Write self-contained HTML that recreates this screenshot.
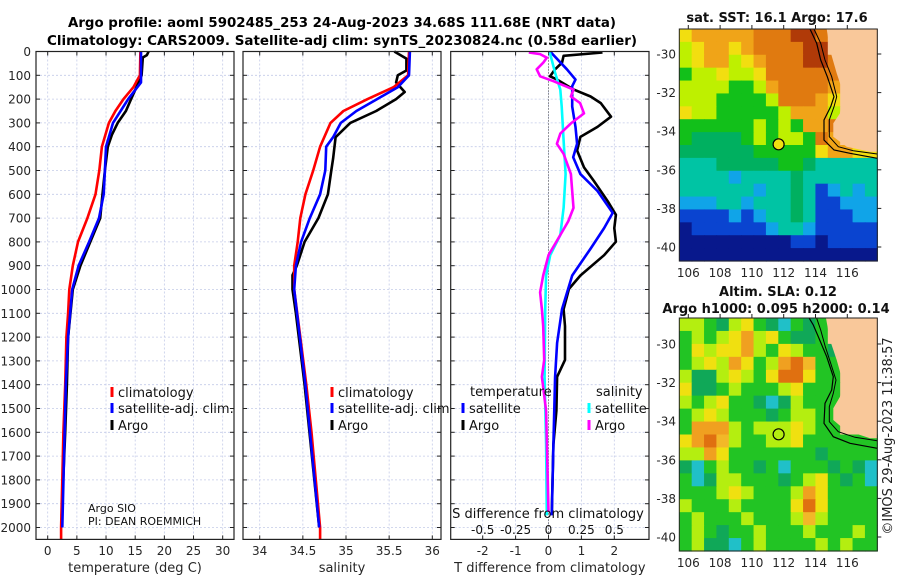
<!DOCTYPE html>
<html><head><meta charset="utf-8"><style>
html,body{margin:0;padding:0;background:#fff;}
svg{display:block;font-family:"DejaVu Sans","Liberation Sans",sans-serif;}
</style></head><body>
<svg id="fig" width="900" height="580" viewBox="0 0 900 580" xmlns="http://www.w3.org/2000/svg">
<text x="342" y="27" text-anchor="middle" font-size="13" font-weight="bold" textLength="548" lengthAdjust="spacingAndGlyphs">Argo profile: aoml 5902485_253 24-Aug-2023 34.68S 111.68E (NRT data)</text>
<text x="342" y="45" text-anchor="middle" font-size="13" font-weight="bold" textLength="590" lengthAdjust="spacingAndGlyphs">Climatology: CARS2009. Satellite-adj clim: synTS_20230824.nc (0.58d earlier)</text>
<g id="maps"></g>
<g id="panels"></g>
</svg>
<script>
// ---------- profile data ----------
const tClimDepth=[0,100,150,200,250,300,400,500,600,700,800,900,1000,1100,1200,1400,1600,1800,2000,2050];
const tClimVal=[15.9,15.8,14.7,13.0,11.6,10.5,9.3,8.85,8.2,6.8,5.2,4.3,3.7,3.5,3.2,3.0,2.7,2.5,2.3,2.3];
const tSatDepth=[0,100,130,200,300,400,500,600,700,800,900,1000,1200,1400,2000];
const tSatVal=[16.0,16.0,16.0,13.8,11.2,10.0,9.8,9.6,8.8,7.1,5.3,4.2,3.5,3.1,2.5];
const tArgoDepth=[0,15,25,100,150,200,250,300,350,400,500,600,700,800,900,1000,1200,1400,1600,1950];
const tArgoVal=[17.3,17.0,16.3,16.1,15.2,14.3,13.4,12.0,11.0,10.3,9.8,9.4,9.0,7.3,5.6,4.3,3.5,3.3,3.0,2.4];
const sClimDepth=[0,100,150,200,250,300,400,500,600,700,800,900,1000,1200,1400,1600,1800,2000,2050];
const sClimVal=[35.73,35.72,35.55,35.25,34.97,34.82,34.70,34.62,34.53,34.47,34.44,34.40,34.40,34.47,34.54,34.60,34.65,34.70,34.70];
const sSatDepth=[0,100,150,200,250,300,360,400,500,600,700,800,900,1000,1400,2000];
const sSatVal=[35.74,35.73,35.60,35.36,35.12,34.94,34.85,34.77,34.76,34.70,34.58,34.48,34.42,34.40,34.53,34.69];
const sArgoDepth=[0,30,80,100,130,170,200,250,300,360,450,500,600,700,800,900,940,1000,1100,1400,2000];
const sArgoVal=[35.56,35.70,35.70,35.60,35.58,35.68,35.58,35.35,35.05,34.88,34.85,34.83,34.79,34.68,34.52,34.43,34.38,34.38,34.42,34.52,34.69];
const dTSatDepth=[0,75,118,146,231,317,388,444,515,586,678,742,828,941,1083,1225,1367,1651,1949];
const dTSatVal=[0.05,0.56,0.82,0.72,0.72,0.82,0.87,0.75,0.97,1.49,1.95,1.69,1.28,0.72,0.41,0.26,0.20,0.15,0.10];
const dTArgoDepth=[4,18,47,75,104,118,160,189,217,274,317,359,416,487,544,629,686,742,799,856,941,998,1083,1154,1296,1367,1509,1651,1935];
const dTArgoVal=[1.64,0.46,0.41,0.20,0.05,0.26,0.77,1.28,1.59,1.90,1.49,0.97,0.87,1.08,1.38,1.80,2.05,2.00,2.05,1.69,0.97,0.62,0.46,0.50,0.50,0.26,0.24,0.15,0.10];
const dSSatDepth=[4,89,160,231,373,515,657,771,856,941,1083,1367,1651,1949];
const dSSatVal=[0.01,0.05,0.09,0.10,0.115,0.13,0.115,0.09,0.013,-0.018,-0.025,-0.03,-0.018,-0.013];
const dSArgoDepth=[4,11,26,47,75,104,125,160,189,217,260,302,345,388,430,515,586,657,714,771,856,941,1012,1083,1154,1296,1367,1509,1935];
const dSArgoVal=[-0.15,-0.064,-0.013,-0.04,-0.09,-0.064,0.04,0.19,0.17,0.24,0.27,0.17,0.09,0.064,0.115,0.17,0.18,0.19,0.15,0.09,0,-0.04,-0.064,-0.05,-0.04,-0.033,-0.05,-0.018,0];
const depthTicks=[0,100,200,300,400,500,600,700,800,900,1000,1100,1200,1300,1400,1500,1600,1700,1800,1900,2000];
const tempTicks=[0,5,10,15,20,25,30];
const salTicks=[34,34.5,35,35.5,36];
const salTickLabels=["34","34.5","35","35.5","36"];
const dTTicks=[-2,-1,0,1,2];
const dSTicks=[-0.5,-0.25,0,0.25,0.5];
const dSTickLabels=["-0.5","-0.25","0","0.25","0.5"];
// ---------- map data (colour grids) ----------
const sstRows=[
"YoooooOOORROLLLL","yYooYoOOOORRLLLL","yYooyYoOOORROLLL","GyyYyyYOOOOOOLLL",
"yyyyGGyoOOOOoLLL","yyyGGGGyOOOoYLLL","YyyGGGGGyoooyLLL","GGGGGGyGyGooOLLL",
"GggggGyGyyGOoLLL","ggggggGGGGGYooYY","TTTgggggGGgTTTTT","TTTTCTTTTgTTTTTT",
"TTTTTTCTTgTBCTCT","CCCTTCTTTgTBBCCC","BBBBCBCTTgTBBBCC","NBBBBBBCTTCBBBBB",
"NNNNNNNNNBBNBBBB","NNNNNNNNNNNNNNNN"];
const slaRows=[
"yyGgyYGgCGgGLLLL","GyGyYOyYGggGLLLL","GYyYYOyGYyGGgLLL","GyYyOYGyORoGGLLL",
"yggyYyGYRRYGGLLL","YggGyGGGyYGGGLLL","yGyYGGgCgyGGGLLL","GyYyGGGgGyyGGLLL",
"GOOOyGyyyYyGGLLL","YORoyGGyyYGGGGGG","yyOYGGGGGGGgGGGG","gCGyGGgGCGGGgGgC",
"GCgyyGGGgGyYGgGC","GGGyYyGGGyOYGGGG","yGGGyGGGGYRYGGGG","GyGGGyGGGyoyGGGG",
"GyGgGGyGGGyGGGyG","GyggCGyGGGGyGyGG"];
const sstPal={R:"#b03a08",O:"#e07a10",o:"#f0a418",Y:"#f2de10",y:"#bef000",G:"#12c01a",g:"#00b060",T:"#00c4a4",C:"#10a4e8",B:"#0a44d0",N:"#08188c",L:"#f9c89a"};
const slaPal={R:"#e07010",O:"#f0a020",o:"#f2b828",Y:"#f0e010",y:"#b4ee10",G:"#22c424",g:"#10a858",C:"#20c0c8",L:"#f9c89a"};
const latTicks=[-30,-32,-34,-36,-38,-40];
const lonTicks=[106,108,110,112,114,116];
const argoLat=-34.68, argoLon=111.68;

const NS="http://www.w3.org/2000/svg";
function mk(tag,attrs,parent){const e=document.createElementNS(NS,tag);for(const k in attrs)e.setAttribute(k,attrs[k]);parent.appendChild(e);return e;}
const panels=document.getElementById('panels');
const maps=document.getElementById('maps');
const TOP=51.5,DS=0.238,BOT=539.4;
const yD=d=>TOP+d*DS;
const xT=t=>47.7+t*5.833;
const xS=s=>259.7+(s-34)*86.3;
const xDT=v=>548.5+v*32.9;
const xDS=v=>548.5+v*131.6;

function panel(name,x0,x1,xticks,xfun,xlabels,title){
  const g=mk('g',{},panels);
  
  
  mk('rect',{x:x0,y:TOP,width:x1-x0,height:BOT-TOP,fill:'#fff'},g);
  depthTicks.forEach(d=>{const l=mk('line',{x1:x0,x2:x1,y1:yD(d),y2:yD(d),stroke:'#c4cbe8','stroke-width':0.8,'stroke-dasharray':'2,2'},g);
    
    mk('line',{x1:x0,x2:x0+4,y1:yD(d),y2:yD(d),stroke:'#222'},g);mk('line',{x1:x1-4,x2:x1,y1:yD(d),y2:yD(d),stroke:'#222'},g);});
  xticks.forEach((v,i)=>{const x=xfun(v);
    const l=mk('line',{x1:x,x2:x,y1:TOP,y2:BOT,stroke:'#c4cbe8','stroke-width':0.8,'stroke-dasharray':'2,2'},g);
    
    mk('line',{x1:x,x2:x,y1:BOT-4,y2:BOT,stroke:'#222'},g);mk('line',{x1:x,x2:x,y1:TOP,y2:TOP+4,stroke:'#222'},g);
    const t=mk('text',{x:x,y:555,'font-size':12,'text-anchor':'middle',fill:'#262626'},g);t.textContent=xlabels[i];
    });
  const tt=mk('text',{x:(x0+x1)/2,y:572,'font-size':13,'text-anchor':'middle',fill:'#262626'},g);tt.textContent=title;
  
  return g;
}
function border(g,x0,x1){mk('rect',{x:x0,y:TOP,width:x1-x0,height:BOT-TOP,fill:'none',stroke:'#222','stroke-width':1.2},g);}
function line(g,name,depths,vals,xf,color,w){
  const p=depths.map((d,i)=>xf(vals[i]).toFixed(1)+','+yD(d).toFixed(1)).join(' ');
  const e=mk('polyline',{points:p,fill:'none',stroke:color,'stroke-width':w||2.6,'stroke-linejoin':'round'},g);
  
}
function legend(g,x,y,color,label,name){
  mk('rect',{x:x-1.5,y:y-5,width:3,height:10,fill:color},g);
  const t=mk('text',{x:x+6,y:y+5,'font-size':13,fill:'#111'},g);t.textContent=label;
  
}
// panel 1
const p1=panel('temperature-panel',36,234,tempTicks,xT,tempTicks.map(String),'temperature (deg C)');
depthTicks.forEach(d=>{const t=mk('text',{x:31,y:yD(d)+4.5,'font-size':12,'text-anchor':'end',fill:'#262626'},p1);t.textContent=d;
  });
line(p1,'argo-temperature-line',tArgoDepth,tArgoVal,xT,'#000');
line(p1,'climatology-temperature-line',tClimDepth,tClimVal,xT,'#f00');
line(p1,'satellite-temperature-line',tSatDepth,tSatVal,xT,'#00f');
legend(p1,112,392,'#f00','climatology','legend-climatology');
legend(p1,112,408,'#00f','satellite-adj. clim.','legend-satellite-adj');
legend(p1,112,425,'#000','Argo','legend-argo');
let t1=mk('text',{x:88,y:512,'font-size':11,fill:'#111'},p1);t1.textContent='Argo SIO';

let t2=mk('text',{x:88,y:525,'font-size':11,fill:'#111'},p1);t2.textContent='PI: DEAN ROEMMICH';

border(p1,36,234);
// panel 2
const p2=panel('salinity-panel',243,441,salTicks,xS,salTickLabels,'salinity');
line(p2,'argo-salinity-line',sArgoDepth,sArgoVal,xS,'#000');
line(p2,'climatology-salinity-line',sClimDepth,sClimVal,xS,'#f00');
line(p2,'satellite-salinity-line',sSatDepth,sSatVal,xS,'#00f');
legend(p2,332,392,'#f00','climatology','legend-climatology');
legend(p2,332,408,'#00f','satellite-adj. clim.','legend-satellite-adj');
legend(p2,332,425,'#000','Argo','legend-argo');
border(p2,243,441);
// panel 3
const p3=panel('difference-panel',450.7,649,dTTicks,xDT,dTTicks.map(String),'T difference from climatology');
mk('line',{x1:548.5,x2:548.5,y1:TOP,y2:BOT,stroke:'#444','stroke-width':1,'stroke-dasharray':'1,2'},p3);
line(p3,'argo-temperature-difference',dTArgoDepth,dTArgoVal,xDT,'#000');
line(p3,'satellite-temperature-difference',dTSatDepth,dTSatVal,xDT,'#00f');
line(p3,'satellite-salinity-difference',dSSatDepth,dSSatVal,xDS,'#0ff');
line(p3,'argo-salinity-difference',dSArgoDepth,dSArgoVal,xDS,'#f0f');
let lt=mk('text',{x:470,y:396,'font-size':13,fill:'#111'},p3);lt.textContent='temperature';

let ls=mk('text',{x:596,y:396,'font-size':13,fill:'#111'},p3);ls.textContent='salinity';

legend(p3,463,408,'#00f','satellite','legend-temperature-satellite');
legend(p3,463,425,'#000','Argo','legend-temperature-argo');
legend(p3,589,408,'#0ff','satellite','legend-salinity-satellite');
legend(p3,589,425,'#f0f','Argo','legend-salinity-argo');
let sd=mk('text',{x:548,y:518,'font-size':13,'text-anchor':'middle',fill:'#111'},p3);sd.textContent='S difference from climatology';

dSTicks.forEach((v,i)=>{const t=mk('text',{x:xDS(v),y:534,'font-size':12,'text-anchor':'middle',fill:'#111'},p3);t.textContent=dSTickLabels[i];
  });
border(p3,450.7,649);

// ---------- maps ----------
function drawMap(name,rows,pal,top,bot,latY0,land,coast1,coast2,dotFill,titleLines){
  const g=mk('g',{},maps);
  
  const L=679.3,R=877.3,cols=rows[0].length,cw=(R-L)/cols,rh=(bot-top)/rows.length;
  rows.forEach((r,j)=>{for(let i=0;i<cols;i++){mk('rect',{x:(L+i*cw).toFixed(2),y:(top+j*rh).toFixed(2),width:(cw+0.6).toFixed(2),height:(rh+0.6).toFixed(2),fill:pal[r[i]]},g);}});
  const lp=land.map(p=>p.join(',')).join(' ');
  const lnd=mk('polygon',{points:lp,fill:'#f9c89a'},g);
  mk('polyline',{points:coast2.map(p=>p.join(',')).join(' '),fill:'none',stroke:'#000','stroke-width':1},g);
  mk('polyline',{points:coast1.map(p=>p.join(',')).join(' '),fill:'none',stroke:'#000','stroke-width':1.2},g);
  const lonX=v=>688.3+(v-106)*15.9;
  const latY=v=>latY0+(-30-v)*19.3;
  const c=mk('circle',{cx:lonX(argoLon),cy:latY(argoLat),r:5.5,fill:dotFill,stroke:'#000','stroke-width':1.2},g);
  
  mk('rect',{x:L,y:top,width:R-L,height:bot-top,fill:'none',stroke:'#222','stroke-width':1},g);
  latTicks.forEach(v=>{const y=latY(v);mk('line',{x1:R,x2:R+4,y1:y,y2:y,stroke:'#222'},g);
    const t=mk('text',{x:676,y:y+4.5,'font-size':12,'text-anchor':'end',fill:'#262626'},g);t.textContent=v;
    });
  lonTicks.forEach(v=>{const x=lonX(v);mk('line',{x1:x,x2:x,y1:top-4,y2:top,stroke:'#222'},g);
    const t=mk('text',{x:x,y:bot+16,'font-size':12,'text-anchor':'middle',fill:'#262626'},g);t.textContent=v;
    });
  titleLines.forEach(tl=>{const t=mk('text',{x:tl[1],y:tl[2],'font-size':13,'font-weight':'bold','text-anchor':'middle',fill:'#111'},g);t.textContent=tl[0];
    });
}
const zx=v=>+(670+v/3).toFixed(1);
const topLand=[[470,87],[480,150],[500,220],[520,280],[510,340],[490,370],[490,410],[530,440],[600,455],[622,455],[622,87]].map(p=>[zx(p[0]),+(p[1]/3).toFixed(1)]);
const topC1=[[420,87],[440,130],[452,180],[472,230],[492,290],[482,320],[462,360],[462,420],[492,450],[540,460],[622,475]].map(p=>[zx(p[0]),+(p[1]/3).toFixed(1)]);
const topC2=[[432,87],[452,130],[465,180],[485,230],[500,290],[492,320],[478,360],[478,410],[505,440],[550,452],[622,462]].map(p=>[zx(p[0]),+(p[1]/3).toFixed(1)]);
drawMap('sst-map',sstRows,sstPal,29,261,54,topLand,topC1,topC2,'#f0e010',[['sat. SST: 16.1 Argo: 17.6',777,22]]);
const bLand=[[468,115],[480,180],[500,240],[520,310],[510,350],[490,385],[490,420],[525,450],[600,475],[622,475],[622,115]].map(p=>[zx(p[0]),+(280+p[1]/3).toFixed(1)]);
const bC1=[[418,115],[430,135],[445,170],[470,230],[490,290],[485,330],[465,370],[462,430],[490,470],[540,490],[622,505]].map(p=>[zx(p[0]),+(280+p[1]/3).toFixed(1)]);
const bC2=[[440,115],[452,150],[466,200],[482,250],[498,300],[490,340],[478,380],[478,425],[505,455],[555,472],[622,482]].map(p=>[zx(p[0]),+(280+p[1]/3).toFixed(1)]);
drawMap('sla-map',slaRows,slaPal,318,551,344,bLand,bC1,bC2,'#b4ee10',[['Altim. SLA: 0.12',778,296],['Argo h1000: 0.095 h2000: 0.14',776,313]]);
const cp=mk('text',{x:0,y:0,'font-size':13,'text-anchor':'middle',fill:'#222',transform:'translate(892,436) rotate(-90)'},maps);
cp.textContent='©IMOS 29-Aug-2023 11:38:57';


</script>
</body></html>
